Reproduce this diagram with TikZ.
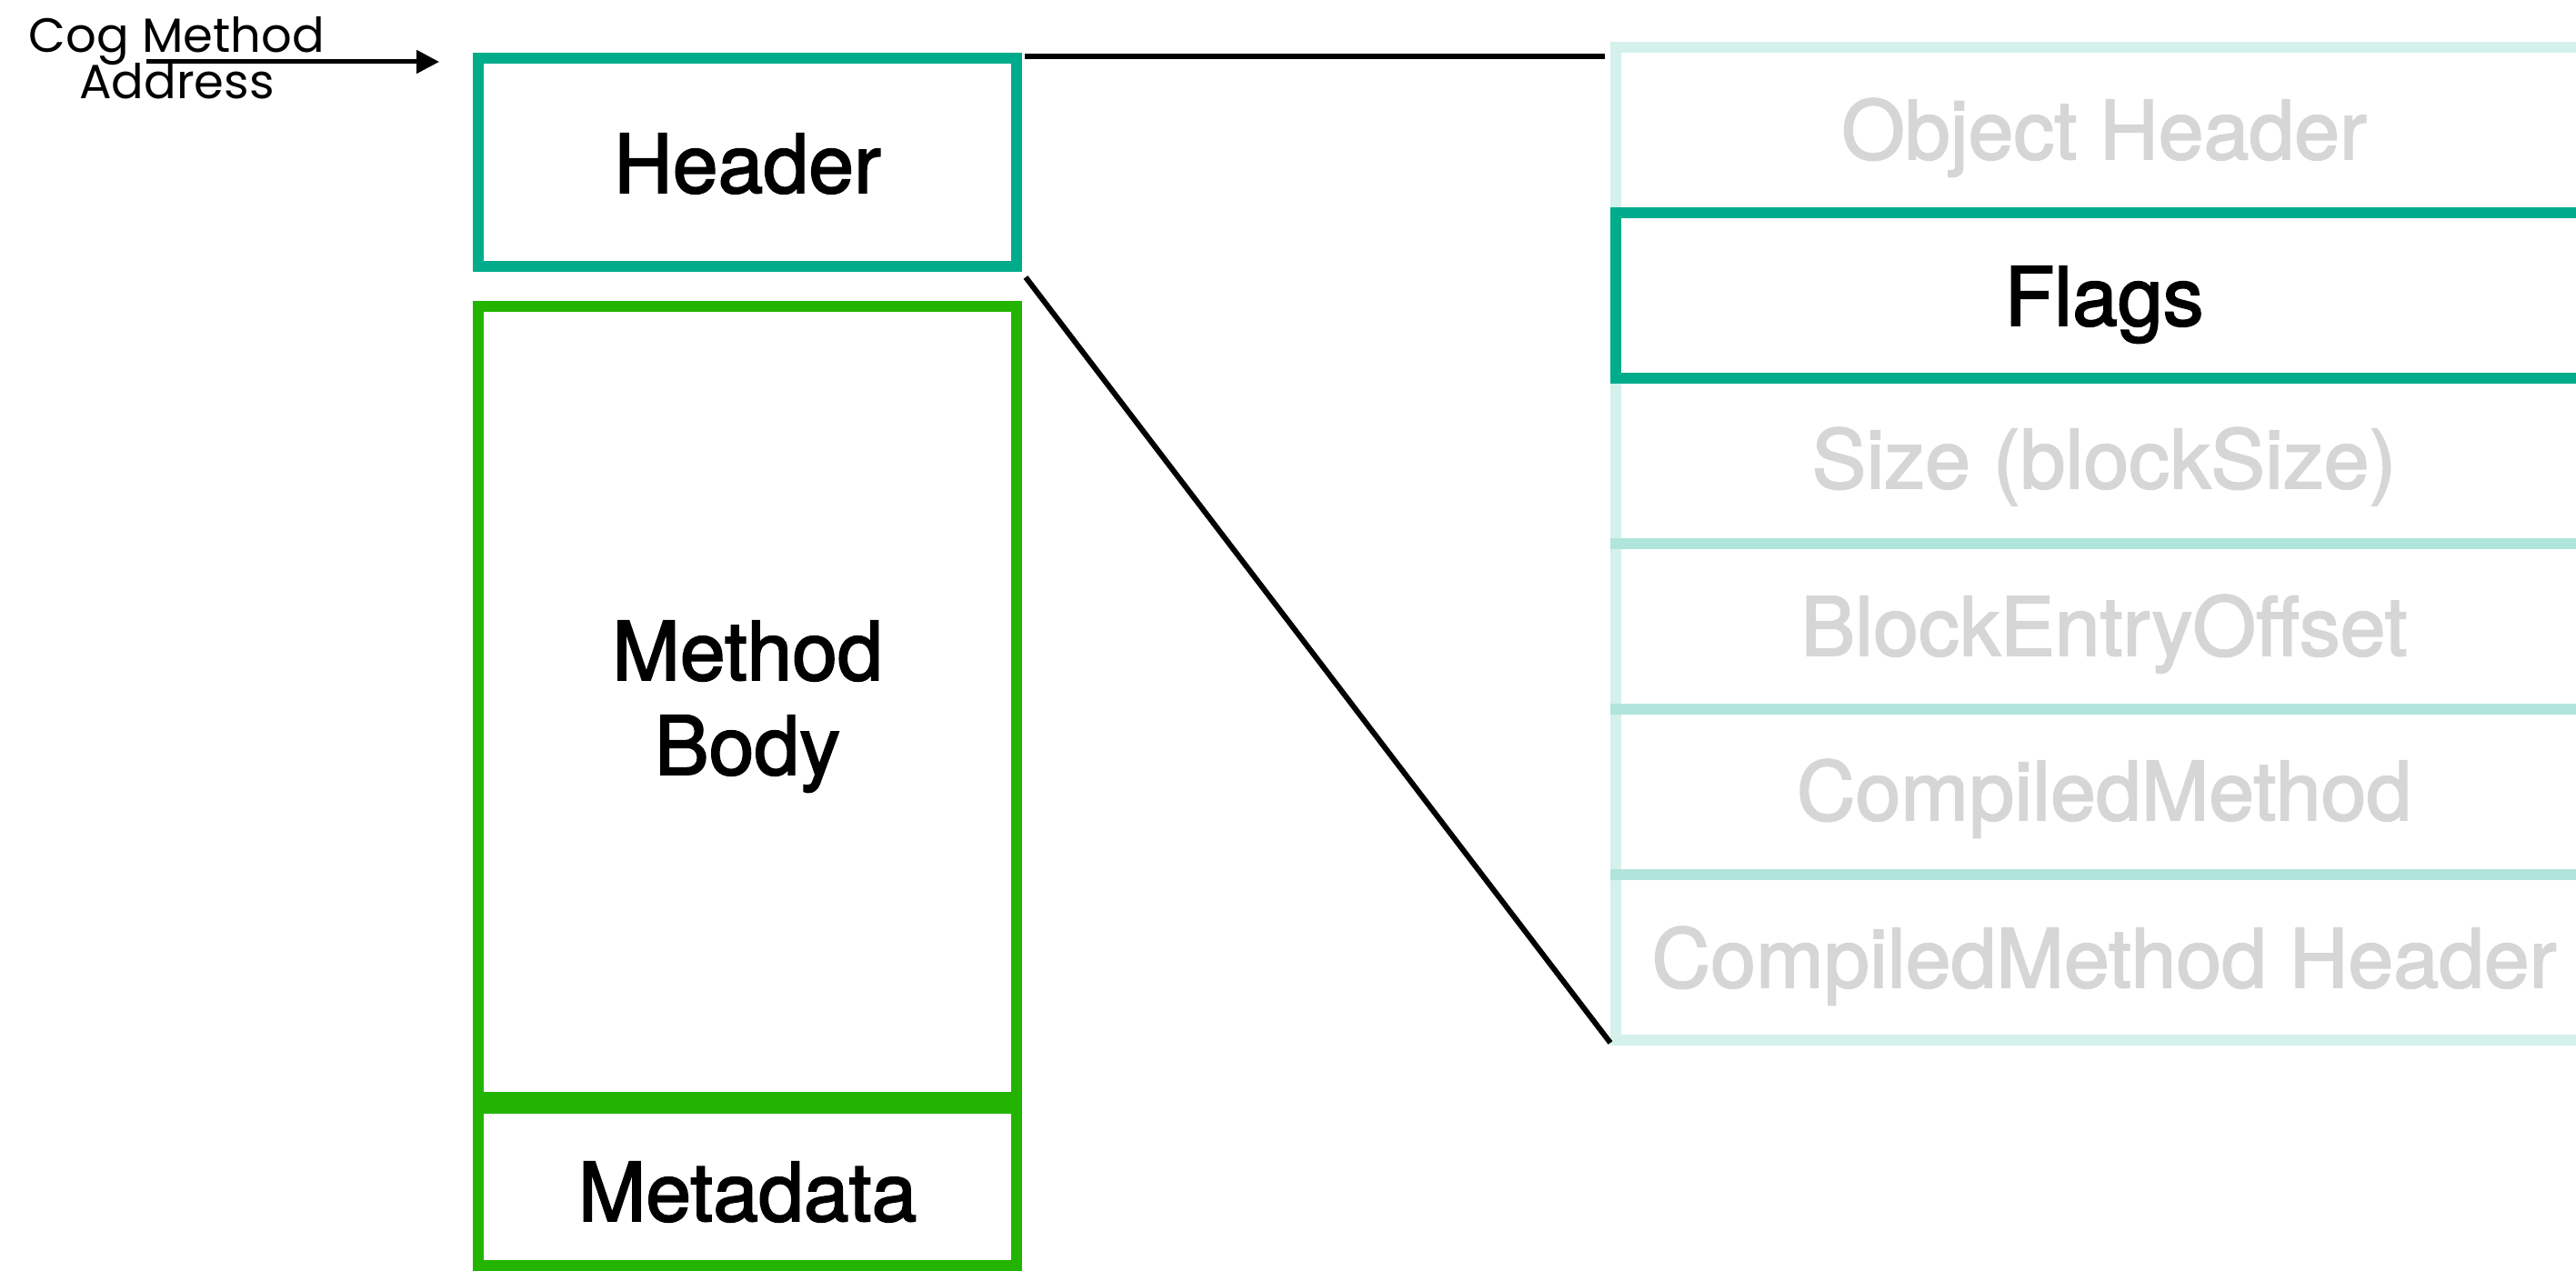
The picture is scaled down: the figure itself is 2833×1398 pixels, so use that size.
\documentclass[tikz,border=0pt]{standalone}
\usepackage{fontspec}
\setmainfont{TeX Gyre Heros}
\newfontfamily\labelfont{TeX Gyre Heros}[FakeBold=2]
\newfontfamily\addrfont{Poppins}
\usetikzlibrary{arrows.meta,calc}
\definecolor{hdrteal}{HTML}{00AC8C}
\definecolor{bodygreen}{HTML}{22B400}
\definecolor{fadedtext}{HTML}{D6D6D6}
\tikzset{
  blockbox/.style={draw, line width=3pt, inner sep=0pt, outer sep=0pt,
    minimum width=148pt},
  rowbox/.style={draw=hdrteal, draw opacity=0.17, line width=3.2pt, inner sep=0pt,
    outer sep=0pt, minimum width=268.5pt, minimum height=45.5pt},
  flagbox/.style={draw=hdrteal, line width=3.2pt, inner sep=0pt, outer sep=0pt,
    minimum width=268.5pt, minimum height=45.5pt},
  bigtext/.style={font=\labelfont\fontsize{22.4}{26}\selectfont, inner sep=0pt, anchor=base},
  fadetext/.style={bigtext, text=fadedtext},
  addrtext/.style={font=\addrfont\fontsize{13.2}{13}\selectfont, inner sep=0pt, anchor=base},
  zoomline/.style={line width=1.5pt, black},
}
\begin{document}
\begin{tikzpicture}[x=0.25pt, y=-0.25pt]
\useasboundingbox (0,0) rectangle (2833,1398);

% left column: the cog method layout
\node[blockbox, draw=hdrteal, minimum height=57.25pt] (header) at (822,178.5) {};
\node[blockbox, draw=bodygreen, minimum height=217.5pt] (body) at (822,772) {};
\node[blockbox, draw=bodygreen, minimum height=43.25pt] (meta) at (822,1305.5) {};
\node[bigtext] (headerlbl) at (822,212) {Header};
\node[bigtext] (bodylbl1) at (822,748) {Method};
\node[bigtext] (bodylbl2) at (822,852) {Body};
\node[bigtext] (metalbl) at (822,1343) {Metadata};

% entry address
\node[addrtext] (addrlbl1) at (194.5,58) {Cog Method};
\node[addrtext] (addrlbl2) at (194.5,109) {Address};
\coordinate (addrstart) at (161,68);
\coordinate (addrend) at (483,68);
\draw[line width=1.25pt, -{Triangle[length=6.25pt, width=6.25pt]}] (addrstart) -- (addrend);

% right column: the header words
\node[rowbox] (objhdr) at (2314,143) {};
\node[rowbox] (sizerow) at (2314,507) {};
\node[rowbox] (bemrow) at (2314,689) {};
\node[rowbox] (cmrow) at (2314,871) {};
\node[rowbox] (cmhrow) at (2314,1053) {};
\node[flagbox] (flags) at (2314,325) {};
\node[fadetext] (objlbl) at (2314,175) {Object Header};
\node[bigtext] (flagslbl) at (2314,358) {Flags};
\node[fadetext] (sizelbl) at (2314,537) {Size (blockSize)};
\node[fadetext] (bemlbl) at (2314,721) {BlockEntryOffset};
\node[fadetext] (cmlbl) at (2314,902) {CompiledMethod};
\node[fadetext] (cmhlbl) at (2314,1086) {CompiledMethod Header};

% zoom lines from the header to the expanded words
\draw[zoomline] ($(header.north east)+(9,-2)$) -- ($(objhdr.north west)+(-12,10)$);
\draw[zoomline] ($(header.south east)+(10,12)$) -- ($(cmhrow.south west)+(-6,3)$);
\end{tikzpicture}
\end{document}
